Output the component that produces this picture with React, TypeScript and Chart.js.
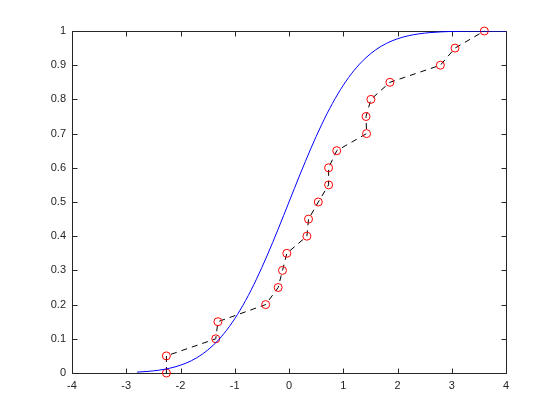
import React, { useEffect, useRef } from "react";
import { Chart, registerables } from "chart.js";

Chart.register(...registerables);

// Empirical points (red circles joined by dashed line)
const sampleX = [-2.26, -2.26, -1.35, -1.31, -0.43, -0.2, -0.12, -0.04, 0.33, 0.36, 0.54, 0.73, 0.73, 0.88, 1.43, 1.42, 1.51, 1.86, 2.79, 3.06, 3.6];
const sampleY = [0, 0.05, 0.1, 0.15, 0.2, 0.25, 0.3, 0.35, 0.4, 0.45, 0.5, 0.55, 0.6, 0.65, 0.7, 0.75, 0.8, 0.85, 0.9, 0.95, 1.0];

// Smooth blue curve (read values)
const curveX = [-2.8, -2.6, -2.4, -2.2, -2.0, -1.8, -1.6, -1.4, -1.2, -1.0, -0.8, -0.6, -0.4, -0.2, 0, 0.2, 0.4, 0.6, 0.8, 1.0, 1.2, 1.4, 1.6, 1.8, 2.0, 2.2, 2.4, 2.6, 2.8, 3.0, 3.2, 3.4, 3.6, 3.8, 4.0];
const curveY = [0.0026, 0.0047, 0.0082, 0.0139, 0.0228, 0.0359, 0.0548, 0.0808, 0.1151, 0.1587, 0.2119, 0.2743, 0.3446, 0.4207, 0.5, 0.5793, 0.6554, 0.7257, 0.7881, 0.8413, 0.8849, 0.9192, 0.9452, 0.9641, 0.9772, 0.9861, 0.9918, 0.9953, 0.9974, 0.9987, 0.9993, 0.9997, 0.9998, 0.9999, 1.0];

const xTicks = [-4, -3, -2, -1, 0, 1, 2, 3, 4];
const yTicks = [0, 0.1, 0.2, 0.3, 0.4, 0.5, 0.6, 0.7, 0.8, 0.9, 1];

const AXIS_COLOR = "#262626";
const FONT = { family: "Arial, 'Liberation Sans', Helvetica, sans-serif", size: 11 };

const boxPlugin = {
  id: "matlabBox",
  beforeDatasetsDraw(chart: any) {
    const { ctx, chartArea: a, scales } = chart;
    const L = Math.round(a.left) + 0.5;
    const R = Math.round(a.right) + 0.5;
    const T = Math.round(a.top) + 0.5;
    const B = Math.round(a.bottom) + 0.5;
    const tl = 5;
    ctx.save();
    ctx.strokeStyle = AXIS_COLOR;
    ctx.lineWidth = 1;
    ctx.beginPath();
    ctx.rect(L, T, R - L, B - T);
    for (const v of xTicks) {
      const px = Math.round(scales.x.getPixelForValue(v)) + 0.5;
      ctx.moveTo(px, B);
      ctx.lineTo(px, B - tl);
      ctx.moveTo(px, T);
      ctx.lineTo(px, T + tl);
    }
    for (const v of yTicks) {
      const py = Math.round(scales.y.getPixelForValue(v)) + 0.5;
      ctx.moveTo(L, py);
      ctx.lineTo(L + tl, py);
      ctx.moveTo(R, py);
      ctx.lineTo(R - tl, py);
    }
    ctx.stroke();
    ctx.restore();
  },
};

export default function App() {
  const ref = useRef<HTMLCanvasElement | null>(null);
  useEffect(() => {
    if (!ref.current) return;
    const chart = new Chart(ref.current, {
      type: "scatter",
      data: {
        datasets: [
          {
            label: "samples",
            data: sampleX.map((x, i) => ({ x, y: sampleY[i] })),
            showLine: true,
            borderColor: "#000000",
            borderWidth: 1,
            borderDash: [6, 5],
            pointRadius: 4,
            pointBorderColor: "#ff0000",
            pointBackgroundColor: "rgba(0,0,0,0)",
            pointBorderWidth: 1,
            clip: false,
            order: 2,
          },
          {
            label: "curve",
            data: curveX.map((x, i) => ({ x, y: curveY[i] })),
            showLine: true,
            borderColor: "#0000ff",
            borderWidth: 1,
            pointRadius: 0,
            cubicInterpolationMode: "monotone",
            order: 1,
          },
        ],
      },
      options: {
        animation: false,
        responsive: false,
        layout: { padding: { top: 31, right: 54, left: 0, bottom: 0 } },
        plugins: { legend: { display: false }, tooltip: { enabled: false } },
        scales: {
          x: {
            type: "linear",
            min: -4,
            max: 4,
            grid: { display: false, drawTicks: false },
            border: { display: false },
            afterBuildTicks: (s: any) => {
              s.ticks = xTicks.map((v) => ({ value: v }));
            },
            afterFit: (s: any) => {
              s.height = 47;
            },
            ticks: {
              color: AXIS_COLOR,
              font: FONT,
              padding: 6,
              maxRotation: 0,
              autoSkip: false,
              callback: (v: any) => String(v),
            },
          },
          y: {
            type: "linear",
            min: 0,
            max: 1,
            grid: { display: false, drawTicks: false },
            border: { display: false },
            afterBuildTicks: (s: any) => {
              s.ticks = yTicks.map((v) => ({ value: v }));
            },
            afterFit: (s: any) => {
              s.width = 72;
            },
            ticks: {
              color: AXIS_COLOR,
              font: FONT,
              padding: 6,
              autoSkip: false,
              callback: (v: any) => String(v),
            },
          },
        },
      },
      plugins: [boxPlugin],
    });
    return () => chart.destroy();
  }, []);
  return (
    <div style={{ position: "fixed", left: 0, top: 0, width: 560, height: 420, background: "#fff" }}>
      <canvas ref={ref} width={560} height={420} style={{ display: "block" }} />
    </div>
  );
}
